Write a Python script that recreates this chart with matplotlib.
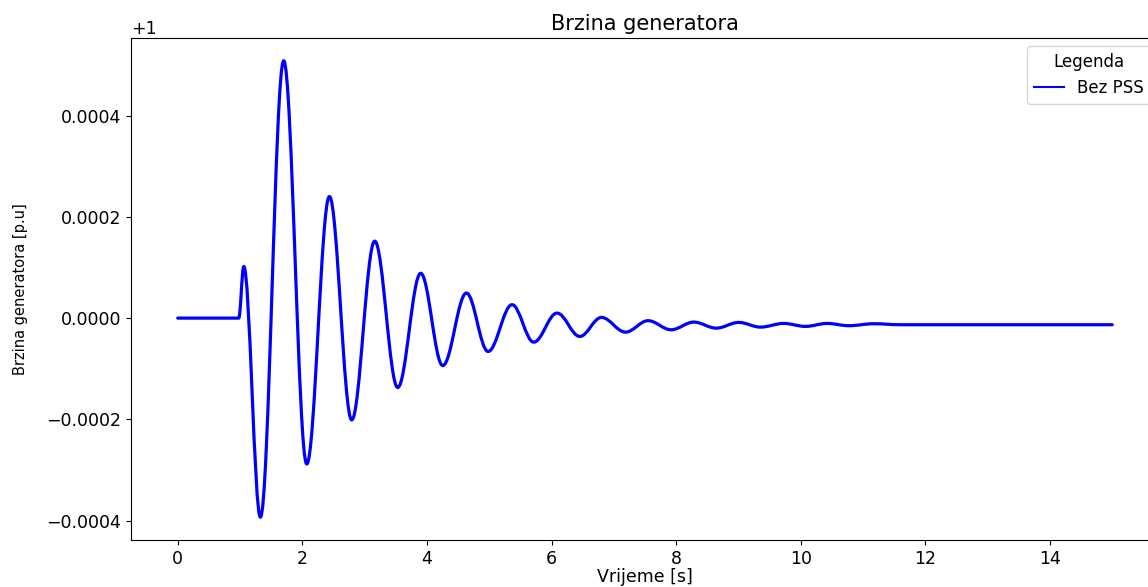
from matplotlib import pyplot as plt
from matplotlib.path import Path
from matplotlib.patches import PathPatch

# vrijeme [s] i odstupanje brzine od 1 p.u. (ekstremi ocitani sa slike)
vrijeme = [0.0, 0.98, 1.06, 1.327, 1.701, 2.071, 2.435, 2.793, 3.162, 3.531,
           3.900, 4.254, 4.634, 4.981, 5.366, 5.714, 6.088, 6.453, 6.801,
           7.186, 7.549, 7.918, 8.283, 8.644, 9.005, 9.353, 9.727, 10.075,
           10.422, 10.770, 11.172, 11.60, 15.0]
odstupanje = [0.0, 0.0, 0.000102, -0.000393, 0.000508, -0.000288, 0.000240,
              -0.000201, 0.000152, -0.000137, 0.0000885, -0.0000937,
              0.0000495, -0.0000659, 0.0000265, -0.0000475, 0.0000099,
              -0.0000362, 0.0000014, -0.0000277, -0.0000051, -0.0000230,
              -0.0000079, -0.0000198, -0.0000085, -0.0000178, -0.0000105,
              -0.0000164, -0.0000105, -0.0000150, -0.0000111, -0.0000131,
              -0.0000131]

brzina = [1 + v for v in odstupanje]

plt.rcParams['font.size'] = 12.5

fig = plt.figure(figsize=(11.48, 5.87), dpi=100)
ax = fig.add_axes([0.1141, 0.0801, 0.8955, 0.8552])

# glatka krivulja kroz ekstreme (vodoravne tangente u vrhovima)
a = 0.3634
tocke = [(vrijeme[0], brzina[0]), (vrijeme[1], brzina[1])]
kodovi = [Path.MOVETO, Path.LINETO]
for i in range(1, len(vrijeme) - 2):
	t0, t1 = vrijeme[i], vrijeme[i + 1]
	y0, y1 = brzina[i], brzina[i + 1]
	dt = t1 - t0
	tocke += [(t0 + a * dt, y0), (t1 - a * dt, y1), (t1, y1)]
	kodovi += [Path.CURVE4] * 3
tocke.append((vrijeme[-1], brzina[-1]))
kodovi.append(Path.LINETO)

krivulja = PathPatch(Path(tocke, kodovi), facecolor='none', edgecolor='b',
                     linewidth=2.3, capstyle='round', joinstyle='round')
ax.add_patch(krivulja)
ax.plot([], [], color='b', linewidth=1.5, label='Bez PSS')
ax.autoscale_view()

ax.set_title('Brzina generatora', fontsize=15)
ax.set_xlabel('Vrijeme [s]', labelpad=0)
ax.set_ylabel('Brzina generatora [p.u]', fontsize=10.5)
ax.yaxis.set_label_coords(-0.100, 0.5)
ax.legend(title='Legenda', fontsize=12, title_fontsize=12, handlelength=1.8)

fig.savefig('out.png', dpi=100)
